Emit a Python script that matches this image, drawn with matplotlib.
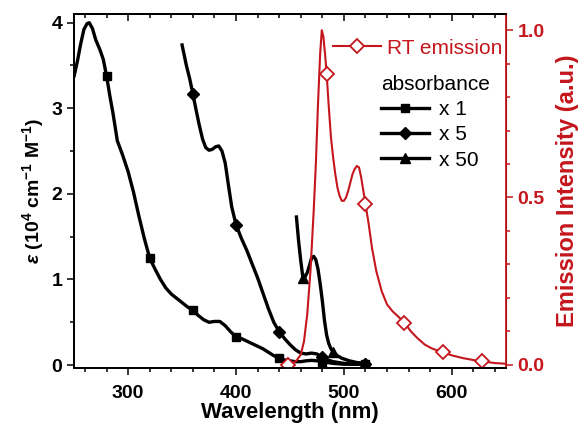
import matplotlib
matplotlib.use("Agg")
import matplotlib.pyplot as plt
from matplotlib.ticker import MultipleLocator

plt.rcParams['font.family'] = ['Liberation Sans', 'DejaVu Sans']
plt.rcParams['mathtext.fontset'] = 'custom'
plt.rcParams['mathtext.it'] = 'Liberation Sans:italic:bold'
plt.rcParams['mathtext.bf'] = 'Liberation Sans:bold'
plt.rcParams['mathtext.rm'] = 'Liberation Sans:bold'

red = '#c4161c'

# absorbance x 1
wl1 = [250, 253, 256, 259, 262, 264, 267, 270, 274, 277, 280, 283, 286, 290, 295, 300, 305, 310, 315, 320,
       325, 330, 335, 340, 345, 350, 355, 360, 365, 370, 375, 380, 385, 390, 395, 400, 405, 410, 415, 420,
       425, 430, 435, 440, 445, 450, 455, 460, 465, 470, 475, 480, 485, 490, 500, 510, 520]
abs1 = [3.38, 3.55, 3.75, 3.92, 3.99, 4.0, 3.93, 3.8, 3.68, 3.57, 3.38, 3.15, 2.94, 2.62, 2.45, 2.26, 2.02,
        1.74, 1.48, 1.25, 1.12, 1.0, 0.9, 0.83, 0.78, 0.73, 0.68, 0.64, 0.58, 0.53, 0.5, 0.51, 0.51, 0.46,
        0.39, 0.33, 0.31, 0.28, 0.25, 0.22, 0.19, 0.15, 0.11, 0.08, 0.06, 0.05, 0.04, 0.04, 0.05, 0.055,
        0.05, 0.04, 0.03, 0.02, 0.01, 0.01, 0.01]
mark1 = [280, 320, 360, 400, 440, 480, 520]

# absorbance x 5
wl5 = [350, 352, 354, 357, 360, 363, 366, 369, 372, 375, 378, 381, 384, 387, 390, 393, 396, 400, 405, 410,
       415, 420, 425, 430, 435, 440, 445, 450, 455, 460, 465, 470, 475, 480, 485, 490, 500, 510, 520]
abs5 = [3.74, 3.62, 3.5, 3.35, 3.17, 2.98, 2.8, 2.64, 2.54, 2.51, 2.52, 2.55, 2.56, 2.5, 2.36, 2.1, 1.85,
        1.64, 1.48, 1.34, 1.18, 1.02, 0.84, 0.66, 0.5, 0.39, 0.31, 0.24, 0.18, 0.14, 0.13, 0.14, 0.13, 0.09,
        0.06, 0.04, 0.02, 0.01, 0.01]
mark5 = [360, 400, 440, 480, 520]

# absorbance x 50
wl50 = [456, 458, 460, 462, 464, 466, 468, 470, 472, 474, 476, 478, 480, 482, 484, 486, 488, 490, 494, 498,
        505, 512, 520]
abs50 = [1.73, 1.45, 1.22, 1.02, 1.03, 1.08, 1.16, 1.25, 1.27, 1.23, 1.12, 0.95, 0.75, 0.52, 0.35, 0.25,
         0.19, 0.15, 0.11, 0.08, 0.05, 0.03, 0.02]
mark50 = [462, 490, 520]

# RT emission
wlE = [445, 448, 452, 456, 460, 463, 466, 469, 472, 474, 476, 478, 479.5, 481, 482.5, 484, 486, 488, 490,
       492, 494, 496, 498, 500, 502, 504, 506, 508, 510, 512, 514, 516, 518, 520, 523, 526, 530, 535, 540,
       545, 550, 556, 562, 568, 575, 582, 592, 600, 610, 620, 628, 640, 650]
emis = [0.0, 0.0, 0.004, 0.012, 0.03, 0.07, 0.15, 0.28, 0.46, 0.6, 0.78, 0.93, 1.0, 0.98, 0.93, 0.87, 0.77,
        0.68, 0.62, 0.57, 0.53, 0.505, 0.49, 0.49, 0.5, 0.52, 0.545, 0.57, 0.585, 0.594, 0.59, 0.56, 0.52,
        0.48, 0.42, 0.35, 0.28, 0.22, 0.18, 0.16, 0.145, 0.126, 0.1, 0.08, 0.06, 0.048, 0.037, 0.028,
        0.02, 0.014, 0.01, 0.005, 0.003]
markE = [448, 484, 520, 556, 592, 628]

fig = plt.figure(figsize=(5.84, 4.28), dpi=100)
ax = fig.add_axes([0.127, 0.140, 0.739, 0.827])
ax2 = ax.twinx()

l1, = ax.plot(wl1, abs1, color='black', lw=2.4, marker='s', ms=6, solid_joinstyle='round',
              markevery=[wl1.index(w) for w in mark1])
l5, = ax.plot(wl5, abs5, color='black', lw=2.4, marker='D', ms=6, solid_joinstyle='round',
              markevery=[wl5.index(w) for w in mark5])
l50, = ax.plot(wl50, abs50, color='black', lw=2.4, marker='^', ms=7, solid_joinstyle='round',
               markevery=[wl50.index(w) for w in mark50])
le, = ax2.plot(wlE, emis, color=red, lw=1.5, marker='D', ms=7, mfc='white', mec=red, mew=1.3,
               solid_joinstyle='round', markevery=[wlE.index(w) for w in markE])

ax.set_xlim(250, 650)
ax.set_ylim(-0.035, 4.1)
ax2.set_ylim(-0.01, 1.048)

ax.xaxis.set_major_locator(MultipleLocator(100))
ax.xaxis.set_minor_locator(MultipleLocator(20))
ax.yaxis.set_major_locator(MultipleLocator(1))
ax.yaxis.set_minor_locator(MultipleLocator(0.5))
ax2.yaxis.set_major_locator(MultipleLocator(0.5))
ax2.yaxis.set_minor_locator(MultipleLocator(0.1))

ax.tick_params(axis='x', which='both', direction='out', top=False, labelsize=14, width=1.1, pad=7)
ax.tick_params(axis='y', which='both', direction='out', labelsize=14, width=1.1)
ax.tick_params(which='major', length=5)
ax.tick_params(which='minor', length=3)
for t in ax.get_xticklabels() + ax.get_yticklabels():
    t.set_fontweight('bold')

# top ticks pointing inward
sec = ax.secondary_xaxis('top')
sec.xaxis.set_major_locator(MultipleLocator(100))
sec.xaxis.set_minor_locator(MultipleLocator(20))
sec.tick_params(which='both', direction='in', labeltop=False, width=1.1)
sec.tick_params(which='major', length=5)
sec.tick_params(which='minor', length=3)
sec.spines['top'].set_linewidth(1.3)

ax2.tick_params(axis='y', which='both', direction='out', colors=red, labelsize=14, width=1.1)
ax2.tick_params(which='major', length=5)
ax2.tick_params(which='minor', length=3)
for t in ax2.get_yticklabels():
    t.set_fontweight('bold')

for s in ['left', 'bottom', 'top']:
    ax.spines[s].set_linewidth(1.3)
    ax2.spines[s].set_linewidth(1.3)
ax2.spines['right'].set_color(red)
ax2.spines['right'].set_linewidth(1.3)

ax.set_xlabel('Wavelength (nm)', fontsize=16, fontweight='bold', labelpad=0)
ax.set_ylabel(r'$\it{\varepsilon}$ (10$^\mathbf{4}$ cm$^\mathbf{-1}$ M$^\mathbf{-1}$)', fontsize=14,
              fontweight='bold', labelpad=4)
ax2.set_ylabel('Emission Intensity (a.u.)', fontsize=17, fontweight='bold', color=red, labelpad=8)

leg1 = ax2.legend([le], ['RT emission'], loc='center left', bbox_to_anchor=(333 / 584, 1 - 48 / 428),
                  bbox_transform=fig.transFigure, frameon=False, fontsize=15, handlelength=2.3,
                  handletextpad=0.3, borderpad=0, borderaxespad=0)
for t in leg1.get_texts():
    t.set_color(red)
ax2.add_artist(leg1)
leg2 = ax2.legend([l1, l5, l50], ['x 1', 'x 5', 'x 50'], title='absorbance', title_fontsize=15,
                  loc='upper left', bbox_to_anchor=(381 / 584, 1 - 75 / 428),
                  bbox_transform=fig.transFigure, frameon=False, fontsize=15, handlelength=2.3,
                  handletextpad=0.5, borderpad=0, borderaxespad=0, labelspacing=0.3,
                  alignment='left')

fig.savefig('out.png', dpi=100)
